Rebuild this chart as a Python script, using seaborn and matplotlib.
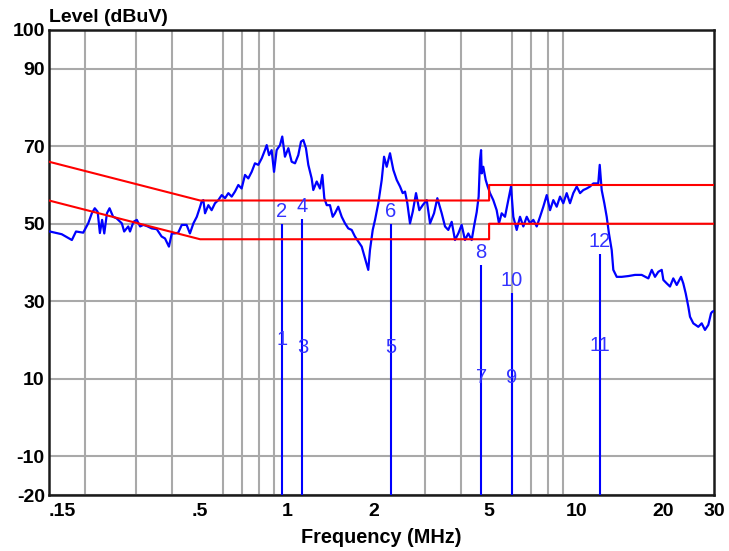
import matplotlib
matplotlib.use("Agg")
import matplotlib.pyplot as plt
import seaborn as sns
import pandas as pd

# ---------------- data ----------------
freq_mhz = [
    0.150, 0.151, 0.166, 0.180, 0.186, 0.197, 0.205, 0.211, 0.216, 0.221,
    0.225, 0.229, 0.233, 0.238, 0.243, 0.250, 0.257, 0.268, 0.273, 0.282,
    0.286, 0.294, 0.302, 0.310, 0.318, 0.327, 0.340, 0.354, 0.368, 0.378,
    0.390, 0.399, 0.409, 0.420, 0.432, 0.449, 0.461, 0.474, 0.487, 0.500,
    0.506, 0.513, 0.520, 0.534, 0.548, 0.563, 0.578, 0.594, 0.610, 0.626,
    0.643, 0.660, 0.678, 0.696, 0.715, 0.734, 0.754, 0.774, 0.795, 0.817,
    0.838, 0.850, 0.866, 0.884, 0.901, 0.920, 0.945, 0.962, 0.983, 1.010,
    1.037, 1.065, 1.093, 1.117, 1.138, 1.162, 1.184, 1.216, 1.232, 1.266,
    1.299, 1.324, 1.345, 1.371, 1.407, 1.438, 1.464, 1.503, 1.545, 1.586,
    1.628, 1.673, 1.717, 1.763, 1.812, 1.860, 1.909, 1.935, 1.978, 2.015,
    2.068, 2.125, 2.165, 2.211, 2.270, 2.331, 2.395, 2.459, 2.512, 2.559,
    2.606, 2.662, 2.721, 2.793, 2.867, 2.946, 3.042, 3.123, 3.224, 3.310,
    3.427, 3.519, 3.612, 3.711, 3.810, 3.912, 4.018, 4.125, 4.236, 4.352,
    4.433, 4.529, 4.600, 4.650, 4.690, 4.713, 4.773, 4.866, 4.944, 5.036,
    5.169, 5.310, 5.409, 5.526, 5.674, 5.826, 5.952, 6.063, 6.229, 6.396,
    6.567, 6.747, 6.927, 7.111, 7.306, 7.502, 7.701, 7.913, 8.124, 8.339,
    8.567, 8.796, 9.030, 9.277, 9.525, 9.778, 10.05, 10.32, 10.59, 10.88,
    11.17, 11.47, 11.78, 11.93, 12.07, 12.26, 12.52, 12.76, 12.99, 13.28,
    13.45, 13.82, 14.38, 15.16, 15.99, 16.86, 17.78, 18.27, 18.75, 19.25,
    19.78, 20.04, 20.59, 21.13, 21.69, 22.29, 23.07, 23.49, 23.95, 24.45,
    24.78, 25.44, 26.47, 27.20, 27.92, 28.67, 29.30, 29.60, 30.00,
]
level_dbuv = [
    48.0, 48.0, 47.3, 45.8, 48.0, 47.7, 50.1, 52.7, 54.0, 53.1,
    47.6, 51.0, 47.5, 52.7, 54.0, 51.8, 51.4, 50.1, 48.0, 49.3,
    48.0, 50.5, 51.0, 49.3, 49.7, 49.4, 48.8, 48.6, 46.7, 46.2,
    44.1, 47.5, 47.5, 47.7, 49.7, 49.7, 47.5, 50.1, 51.8, 54.4,
    55.7, 56.1, 52.7, 54.8, 53.5, 55.3, 56.1, 57.4, 56.6, 57.9,
    57.0, 58.3, 60.0, 59.1, 62.6, 61.7, 63.4, 65.6, 65.2, 66.9,
    69.0, 70.3, 67.7, 69.0, 63.4, 69.0, 70.3, 72.5, 67.3, 69.5,
    66.0, 65.6, 67.7, 71.2, 71.6, 69.5, 65.2, 61.7, 58.7, 60.9,
    59.1, 62.6, 56.6, 54.8, 54.8, 51.8, 52.7, 54.4, 51.8, 50.1,
    48.8, 48.4, 46.7, 45.4, 44.1, 41.1, 38.1, 43.2, 48.4, 51.0,
    55.3, 61.3, 67.3, 64.7, 68.2, 63.9, 61.3, 59.6, 57.9, 58.3,
    55.3, 50.1, 53.1, 57.9, 53.5, 54.8, 56.1, 50.1, 52.7, 56.6,
    52.7, 49.3, 48.4, 50.5, 45.8, 47.5, 49.7, 45.8, 47.5, 45.8,
    49.3, 53.0, 57.0, 66.5, 69.0, 63.0, 64.7, 61.3, 59.6, 57.9,
    56.1, 53.5, 50.1, 52.7, 51.8, 56.1, 59.6, 51.8, 48.4, 51.8,
    49.3, 51.8, 50.1, 51.0, 49.3, 51.8, 54.4, 57.4, 53.5, 56.1,
    54.4, 57.0, 55.3, 57.9, 55.3, 57.9, 59.6, 57.9, 58.7, 59.1,
    59.6, 60.4, 60.4, 60.4, 65.2, 58.7, 55.3, 51.8, 47.5, 43.2,
    38.1, 36.3, 36.3, 36.5, 36.8, 36.8, 35.9, 38.1, 36.3, 37.6,
    38.1, 35.5, 34.6, 33.8, 35.9, 34.2, 36.3, 34.6, 32.0, 28.6,
    26.0, 24.3, 23.4, 24.3, 22.6, 23.9, 26.9, 27.3, 27.5,
]

qp_limit_freq = [0.15, 0.5, 5.0, 5.0, 30.0]
qp_limit_level = [66, 56, 56, 60, 60]
av_limit_freq = [0.15, 0.5, 5.0, 5.0, 30.0]
av_limit_level = [56, 46, 46, 50, 50]

marker_ids = [1, 2, 3, 4, 5, 6, 7, 8, 9, 10, 11, 12]
marker_freq = [0.96, 0.96, 1.13, 1.13, 2.28, 2.28, 4.69, 4.69, 6.0, 6.0, 12.1, 12.1]
marker_level = [16.9, 49.9, 14.8, 51.3, 14.8, 49.9, 7.1, 39.4, 7.1, 32.2, 15.4, 42.2]

xtick_vals = [0.15, 0.5, 1, 2, 5, 10, 20, 30]
xtick_labels = [".15", ".5", "1", "2", "5", "10", "20", "30"]
xgrid_vals = [0.2, 0.3, 0.4, 0.5, 0.6, 0.7, 0.8, 0.9, 1, 2, 3, 4, 5, 6, 7, 8, 9, 10, 20]
ytick_vals = [100, 90, 70, 50, 30, 10, -10, -20]
ytick_labels = ["100", "90", "70", "50", "30", "10", "-10", "-20"]

# ---------------- plot ----------------
sns.set_theme(style="white")
plt.rcParams['font.family'] = ['Liberation Sans', 'DejaVu Sans']

fig = plt.figure(figsize=(7.29, 5.51), dpi=100)
ax = fig.add_axes([49 / 729, 1 - 495 / 551, 665 / 729, 465 / 551])
ax.set_xscale('log')

trace = pd.DataFrame({"f": freq_mhz, "lvl": level_dbuv})
qp = pd.DataFrame({"f": qp_limit_freq, "lvl": qp_limit_level})
av = pd.DataFrame({"f": av_limit_freq, "lvl": av_limit_level})

sns.lineplot(data=trace, x="f", y="lvl", ax=ax, color="#0000ff", lw=1.6,
             estimator=None, sort=False, zorder=3)
sns.lineplot(data=qp, x="f", y="lvl", ax=ax, color="#ff0000", lw=1.5,
             estimator=None, sort=False, zorder=4)
sns.lineplot(data=av, x="f", y="lvl", ax=ax, color="#ff0000", lw=1.5,
             estimator=None, sort=False, zorder=4)

# marker lines: drawn up to the QP (even) reading
for i in range(0, len(marker_ids), 2):
    f = marker_freq[i + 1]
    top = max(marker_level[i], marker_level[i + 1])
    ax.vlines(f, -20, top, color="#0000ff", lw=1.5, zorder=3)

for mid, f, v in zip(marker_ids, marker_freq, marker_level):
    ax.annotate(str(mid), (f, v), xytext=(0, 2), textcoords="offset points",
                ha="center", va="bottom", fontsize=14.5, color="#3333ff", zorder=5)

ax.set_xlim(0.15, 30)
ax.set_ylim(-20, 100)
ax.set_xticks(xtick_vals, labels=xtick_labels)
ax.set_xticks(xgrid_vals, minor=True)
ax.set_xticklabels([], minor=True)
ax.set_yticks(ytick_vals, labels=ytick_labels)
ax.set_xlabel("")
ax.set_ylabel("")

ax.grid(False)
ax.grid(True, which="minor", axis="x", color="#a9a9a9", lw=1.5)
ax.grid(True, which="major", axis="y", color="#a9a9a9", lw=1.5)
ax.set_axisbelow(True)

ax.tick_params(axis="both", which="both", length=0)
ax.tick_params(axis="x", which="major", pad=6, labelsize=14)
ax.tick_params(axis="y", which="major", pad=3, labelsize=14)
for lab in ax.get_xticklabels() + ax.get_yticklabels():
    lab.set_fontweight("bold")
    lab.set_color("black")
ax.get_xticklabels()[0].set_horizontalalignment("left")

for sp in ax.spines.values():
    sp.set_visible(True)
    sp.set_color("#1a1a1a")
    sp.set_linewidth(1.8)

fig.text(49 / 729, 1 - 22 / 551, "Level (dBuV)", ha="left", va="baseline",
         fontsize=14, fontweight="bold", color="black")
fig.text(381 / 729, 1 - 543 / 551, "Frequency (MHz)", ha="center", va="baseline",
         fontsize=14.3, fontweight="bold", color="black")

fig.savefig("out.png", dpi=100, facecolor="white")
